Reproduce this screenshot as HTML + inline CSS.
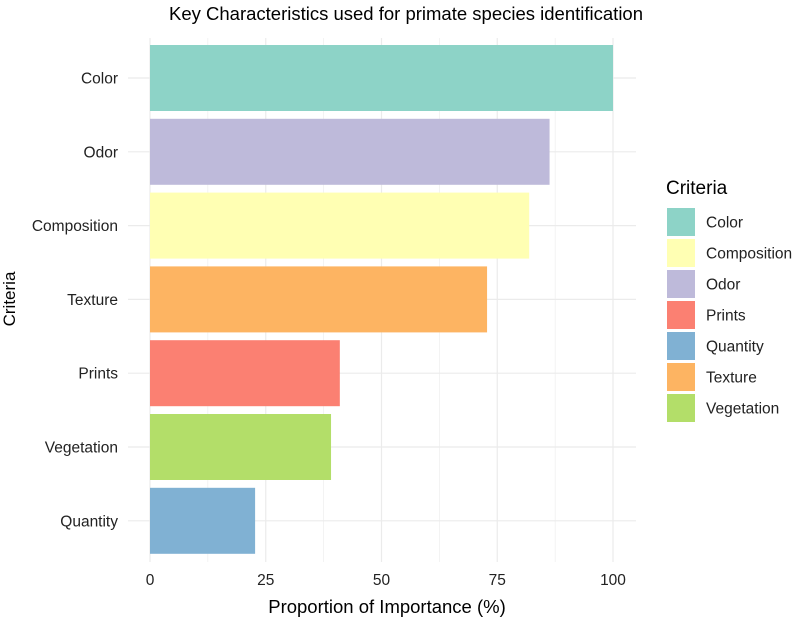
<!DOCTYPE html>
<html><head><meta charset="utf-8"><style>
body{margin:0;background:#fff;}
svg text{font-family:"Liberation Sans",Arial,sans-serif;}
</style></head><body>
<svg id="chart" width="794" height="618" xmlns="http://www.w3.org/2000/svg">
<text x="406" y="20" text-anchor="middle" font-size="18.5" fill="#000">Key Characteristics used for primate species identification</text>
<g id="grid"></g><g id="bars"></g><g id="yticks"></g><g id="xticks"></g>
<text x="387" y="613" text-anchor="middle" font-size="18.5" fill="#000">Proportion of Importance (%)</text>
<text transform="translate(15,299) rotate(-90)" text-anchor="middle" font-size="17" fill="#000">Criteria</text>
<g id="legend"></g>
</svg>
<script>
const categories=["Color","Odor","Composition","Texture","Prints","Vegetation","Quantity"];
const values=[100,86.3,81.9,72.8,41,39.1,22.7];
const colors=["#8DD3C7","#BEBADA","#FFFFB3","#FDB462","#FB8072","#B3DE69","#80B1D3"];
const xTicks=[0,25,50,75,100];
const legendLabels=["Color","Composition","Odor","Prints","Quantity","Texture","Vegetation"];
const legendColors=["#8DD3C7","#FFFFB3","#BEBADA","#FB8072","#80B1D3","#FDB462","#B3DE69"];
const NS="http://www.w3.org/2000/svg";
const px0=128,px1=636,py0=38,py1=562;
const x=v=>150+v*4.63;
const band=73.8, yc=i=>78+i*band, bh=66;
function mk(t,a,p){const e=document.createElementNS(NS,t);for(const k in a)e.setAttribute(k,a[k]);document.getElementById(p).appendChild(e);return e;}
for(let v=0;v<=100;v+=12.5){const l=mk("line",{x1:x(v),x2:x(v),y1:py0,y2:py1,stroke:"#ebebeb","stroke-width":v%25===0?1.2:0.6},"grid");

}
categories.forEach((c,i)=>{const l=mk("line",{x1:px0,x2:px1,y1:yc(i),y2:yc(i),stroke:"#ebebeb","stroke-width":1.2},"grid");


const r=mk("rect",{x:x(0),y:yc(i)-bh/2,width:x(values[i])-x(0),height:bh,fill:colors[i]},"bars");


const t=mk("text",{x:118,y:yc(i)+5.5,"text-anchor":"end","font-size":"15.5",fill:"#222"},"yticks");t.textContent=c;

});
xTicks.forEach(v=>{const t=mk("text",{x:x(v),y:585,"text-anchor":"middle","font-size":"15.5",fill:"#222"},"xticks");t.textContent=v;

});
const lt=mk("text",{x:666,y:194,"font-size":"19",fill:"#000"},"legend");lt.textContent="Criteria";


legendLabels.forEach((c,i)=>{const y=208+i*31;
const r=mk("rect",{x:667,y:y,width:28,height:28,fill:legendColors[i]},"legend");


const t=mk("text",{x:706,y:y+19.5,"font-size":"15.5",fill:"#222"},"legend");t.textContent=c;

});
</script>
</body></html>
